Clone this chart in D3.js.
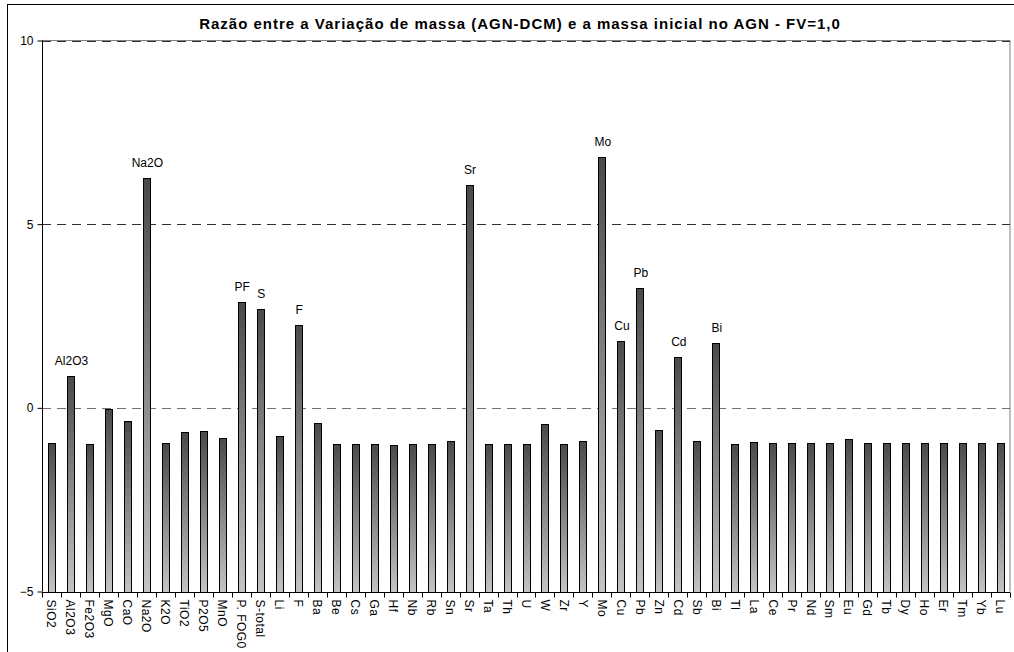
<!DOCTYPE html>
<html><head><meta charset="utf-8">
<script src="https://cdn.jsdelivr.net/npm/d3@7"></script>
<style>body{margin:0;background:#fff;}svg{display:block;font-family:"Liberation Sans",Arial,sans-serif;}</style>
</head><body>
<script>
const categories = ["SiO2","Al2O3","Fe2O3","MgO","CaO","Na2O","K2O","TiO2","P2O5","MnO","P. FOG0","S-total","Li","F","Ba","Be","Cs","Ga","Hf","Nb","Rb","Sn","Sr","Ta","Th","U","W","Zr","Y","Mo","Cu","Pb","Zn","Cd","Sb","Bi","Tl","La","Ce","Pr","Nd","Sm","Eu","Gd","Tb","Dy","Ho","Er","Tm","Yb","Lu"];
const values = [-0.95,0.87,-0.99,-0.02,-0.36,6.25,-0.95,-0.67,-0.62,-0.83,2.89,2.69,-0.77,2.26,-0.42,-0.98,-0.98,-0.98,-1.0,-0.98,-0.98,-0.9,6.07,-0.98,-0.98,-0.98,-0.43,-0.98,-0.9,6.83,1.82,3.25,-0.61,1.39,-0.9,1.77,-0.99,-0.93,-0.95,-0.95,-0.95,-0.95,-0.85,-0.95,-0.95,-0.95,-0.95,-0.95,-0.95,-0.95,-0.95];
const barLabels = {"Al2O3":"Al2O3","Na2O":"Na2O","P. FOG0":"PF","S-total":"S","F":"F","Sr":"Sr","Mo":"Mo","Cu":"Cu","Pb":"Pb","Cd":"Cd","Bi":"Bi"};
const yTicks = [-5,0,5,10];
const title = "Razão entre a Variação de massa (AGN-DCM) e a massa inicial no AGN - FV=1,0";

const W = 1014, H = 652;
const svg = d3.select("body").append("svg").attr("width", W).attr("height", H);

const defs = svg.append("defs");
const grad = defs.append("linearGradient").attr("id","barGrad").attr("x1",0).attr("y1",0).attr("x2",0).attr("y2",1);
grad.append("stop").attr("offset","0%").attr("stop-color","#4a4a4a");
grad.append("stop").attr("offset","100%").attr("stop-color","#c4c4c4");

// outer border
svg.append("rect").attr("x",7.5).attr("y",4.5).attr("width",1030).attr("height",670)
  .attr("fill","none").attr("stroke","#000").attr("stroke-width",1);

const pLeft = 42, pRight = 1010, pTop = 40.5, pBottom = 591.5;
const x = d3.scaleBand().domain(categories).range([pLeft, pRight]).paddingInner(0).paddingOuter(0);
const y = d3.scaleLinear().domain([-5, 10]).range([pBottom, pTop]);

// plot border (gray)
svg.append("path").attr("d", `M${pLeft},${pTop}H${pRight}V${pBottom}`).attr("fill","none").attr("stroke","#808080");

// gridlines
svg.append("g").selectAll("line").data(yTicks.filter(d => d > -5)).join("line")
  .attr("x1", pLeft).attr("x2", pRight)
  .attr("y1", d => Math.round(y(d)) + 0.5).attr("y2", d => Math.round(y(d)) + 0.5)
  .attr("stroke", d => d === 0 ? "#707070" : "#303030").attr("stroke-dasharray", "9,6");

// bars
const bw = 7;
svg.append("g").selectAll("rect").data(categories).join("rect")
  .attr("x", d => Math.round(x(d) + x.bandwidth()/2 - bw/2) + 0.5)
  .attr("y", (d,i) => Math.round(y(values[i])) + 0.5)
  .attr("width", bw)
  .attr("height", (d,i) => Math.round(y(-5)) - Math.round(y(values[i])))
  .attr("fill", "url(#barGrad)").attr("stroke", "#000").attr("stroke-width", 1);

// bar labels
svg.append("g").selectAll("text").data(categories.filter(c => barLabels[c])).join("text")
  .attr("x", d => x(d) + x.bandwidth()/2 + 1)
  .attr("y", d => y(values[categories.indexOf(d)]) - 11)
  .attr("text-anchor","middle").attr("font-size", 12).attr("fill","#000")
  .text(d => barLabels[d]);

// y axis
const yAxis = svg.append("g").attr("transform", `translate(${pLeft + 0.5},0)`)
  .call(d3.axisLeft(y).tickValues(yTicks).tickSize(5).tickPadding(4).tickFormat(d3.format("d")));
yAxis.select(".domain").attr("stroke","#000").attr("d", `M0,${pTop}V${pBottom}`);
yAxis.selectAll("text").attr("font-size", 12).attr("font-family","Liberation Sans, Arial, sans-serif").attr("fill","#000");
yAxis.selectAll(".tick line").attr("stroke","#000");

// x axis
const xg = svg.append("g").attr("transform", `translate(0,${Math.round(pBottom) + 0.5})`);
xg.append("line").attr("x1", pLeft).attr("x2", pRight).attr("stroke", "#000");
const boundaries = categories.map(c => x(c)).concat([pRight]);
xg.selectAll("line.tk").data(boundaries).join("line").attr("class","tk")
  .attr("x1", d => Math.round(d) + 0.5).attr("x2", d => Math.round(d) + 0.5)
  .attr("y1", 0).attr("y2", 5).attr("stroke","#000");
xg.selectAll("text").data(categories).join("text")
  .attr("transform", d => `translate(${x(d) + x.bandwidth()/2},7) rotate(90)`)
  .attr("dy", "0.35em").attr("font-size", 12).attr("letter-spacing", "0.5px").attr("fill","#000")
  .text(d => d);

// title
svg.append("text").attr("x", 520).attr("y", 29).attr("text-anchor","middle")
  .attr("font-size", 15).attr("font-weight","bold").attr("letter-spacing","1px").attr("fill","#000").text(title);
</script>
</body></html>
